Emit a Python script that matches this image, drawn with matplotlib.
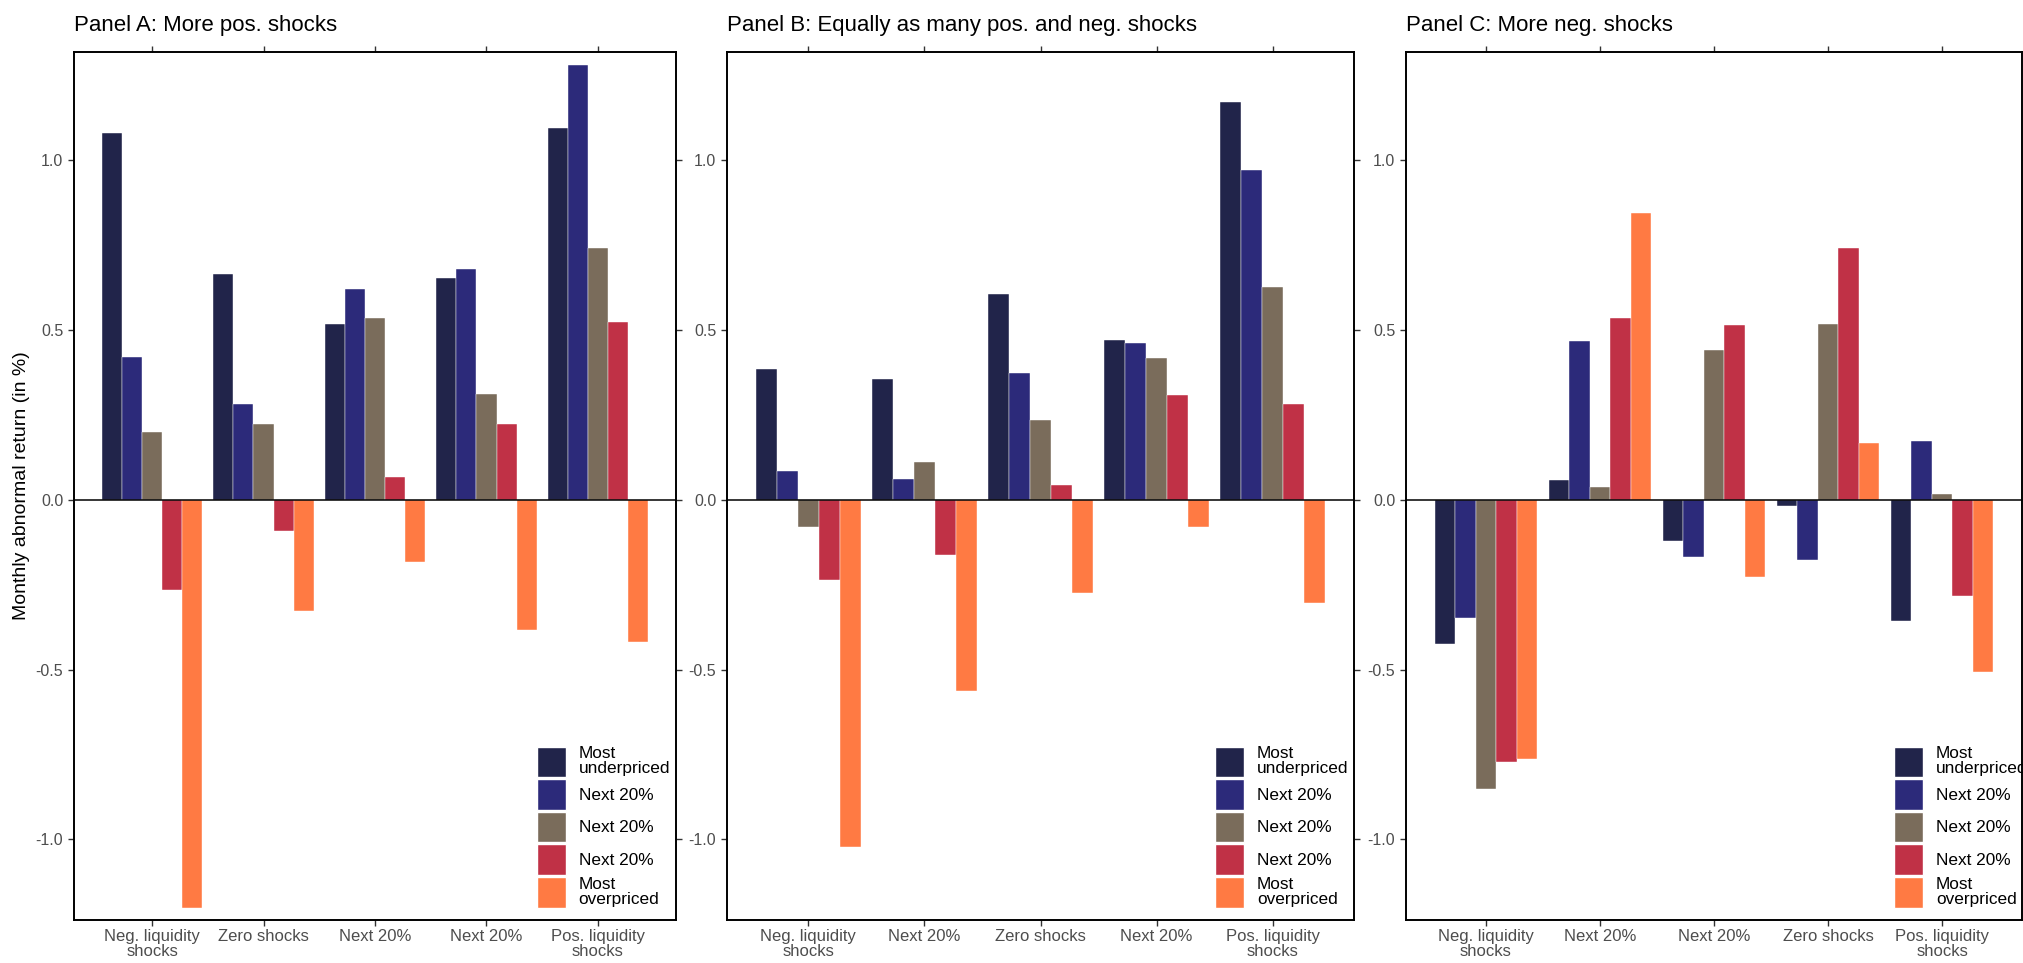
import matplotlib.pyplot as plt
import numpy as np
from matplotlib.patches import Patch

plt.rcParams['font.family'] = ['Liberation Sans', 'DejaVu Sans']
plt.rcParams['axes.unicode_minus'] = False

portfolios = ["Most\nunderpriced", "Next 20%", "Next 20%", "Next 20%", "Most\noverpriced"]
colors = ["#21244a", "#2c2a7a", "#7a6c5b", "#c03146", "#ff7a43"]

titles = ["Panel A: More pos. shocks",
          "Panel B: Equally as many pos. and neg. shocks",
          "Panel C: More neg. shocks"]

cats_a = ["Neg. liquidity\nshocks", "Zero shocks", "Next 20%", "Next 20%", "Pos. liquidity\nshocks"]
cats_b = ["Neg. liquidity\nshocks", "Next 20%", "Zero shocks", "Next 20%", "Pos. liquidity\nshocks"]
cats_c = ["Neg. liquidity\nshocks", "Next 20%", "Next 20%", "Zero shocks", "Pos. liquidity\nshocks"]

# one row per portfolio, one column per shock category
vals_a = [[1.081, 0.665, 0.518, 0.653, 1.093],
          [0.419, 0.281, 0.621, 0.679, 1.280],
          [0.200, 0.223, 0.536, 0.310, 0.742],
          [-0.265, -0.092, 0.066, 0.224, 0.524],
          [-1.202, -0.326, -0.182, -0.384, -0.418]]

vals_b = [[0.384, 0.354, 0.605, 0.471, 1.171],
          [0.084, 0.061, 0.373, 0.460, 0.970],
          [-0.080, 0.110, 0.236, 0.418, 0.627],
          [-0.236, -0.163, 0.042, 0.308, 0.281],
          [-1.023, -0.563, -0.274, -0.080, -0.304]]

vals_c = [[-0.426, 0.058, -0.121, -0.018, -0.358],
          [-0.347, 0.468, -0.169, -0.176, 0.174],
          [-0.852, 0.039, 0.442, 0.518, 0.018],
          [-0.771, 0.534, 0.515, 0.741, -0.284],
          [-0.762, 0.845, -0.227, 0.166, -0.507]]

yticks = [-1.0, -0.5, 0.0, 0.5, 1.0]
ytick_labels = ["-1.0", "-0.5", "0.0", "0.5", "1.0"]

W, H = 2024, 963
fig = plt.figure(figsize=(W / 100, H / 100), dpi=100)

# axes boxes in pixels: left, right
boxes = [(74, 676), (727, 1354), (1406, 2022)]
top, bottom = 52, 920
leg_x = [536.7, 1215, 1894]

panels = [(cats_a, vals_a), (cats_b, vals_b), (cats_c, vals_c)]
bw = 0.18

for k, (cats, vals) in enumerate(panels):
    l, r = boxes[k]
    ax = fig.add_axes([l / W, (H - bottom) / H, (r - l) / W, (bottom - top) / H])
    x = np.arange(1, 6)
    for j in range(5):
        ax.bar(x + (j - 2) * bw, vals[j], width=bw, color=colors[j],
               edgecolor='white', linewidth=0.3, zorder=2)
    ax.axhline(0, color='black', lw=1.1, zorder=3)
    ax.set_xlim(0.3, 5.7)
    ax.set_ylim(-1.237, 1.318)
    ax.set_xticks(x)
    ax.set_xticklabels(cats, fontsize=12, color='#4d4d4d', linespacing=1.0)
    ax.set_yticks(yticks)
    ax.set_yticklabels(ytick_labels, fontsize=11.5, color='#4d4d4d')
    ax.tick_params(axis='both', direction='out', length=4.3, width=1.0,
                   color='#333333', top=True, right=True)
    ax.tick_params(axis='x', pad=2)
    ax.tick_params(axis='y', pad=3.5)
    for s in ax.spines.values():
        s.set_linewidth(1.4)
        s.set_color('black')
    ax.text(0, (bottom - 30.7) / (bottom - top), titles[k], transform=ax.transAxes,
            ha='left', va='baseline', fontsize=16, color='black')

    handles = [Patch(facecolor=c, edgecolor='white', linewidth=1) for c in colors]
    leg = ax.legend(handles, portfolios, loc='lower left',
                    bbox_to_anchor=((leg_x[k] - l) / (r - l), 12 / (bottom - top)),
                    frameon=False, fontsize=12.4, handlelength=1.68, handleheight=2.35,
                    handletextpad=0.76, labelspacing=0.12, borderpad=0, borderaxespad=0)
    for t in leg.get_texts():
        t.set_linespacing(1.0)

fig.text(21.7 / W, (H - (top + bottom) / 2) / H, "Monthly abnormal return (in %)",
         rotation=90, ha='center', va='center', fontsize=14)

plt.savefig("out.png", dpi=100)
